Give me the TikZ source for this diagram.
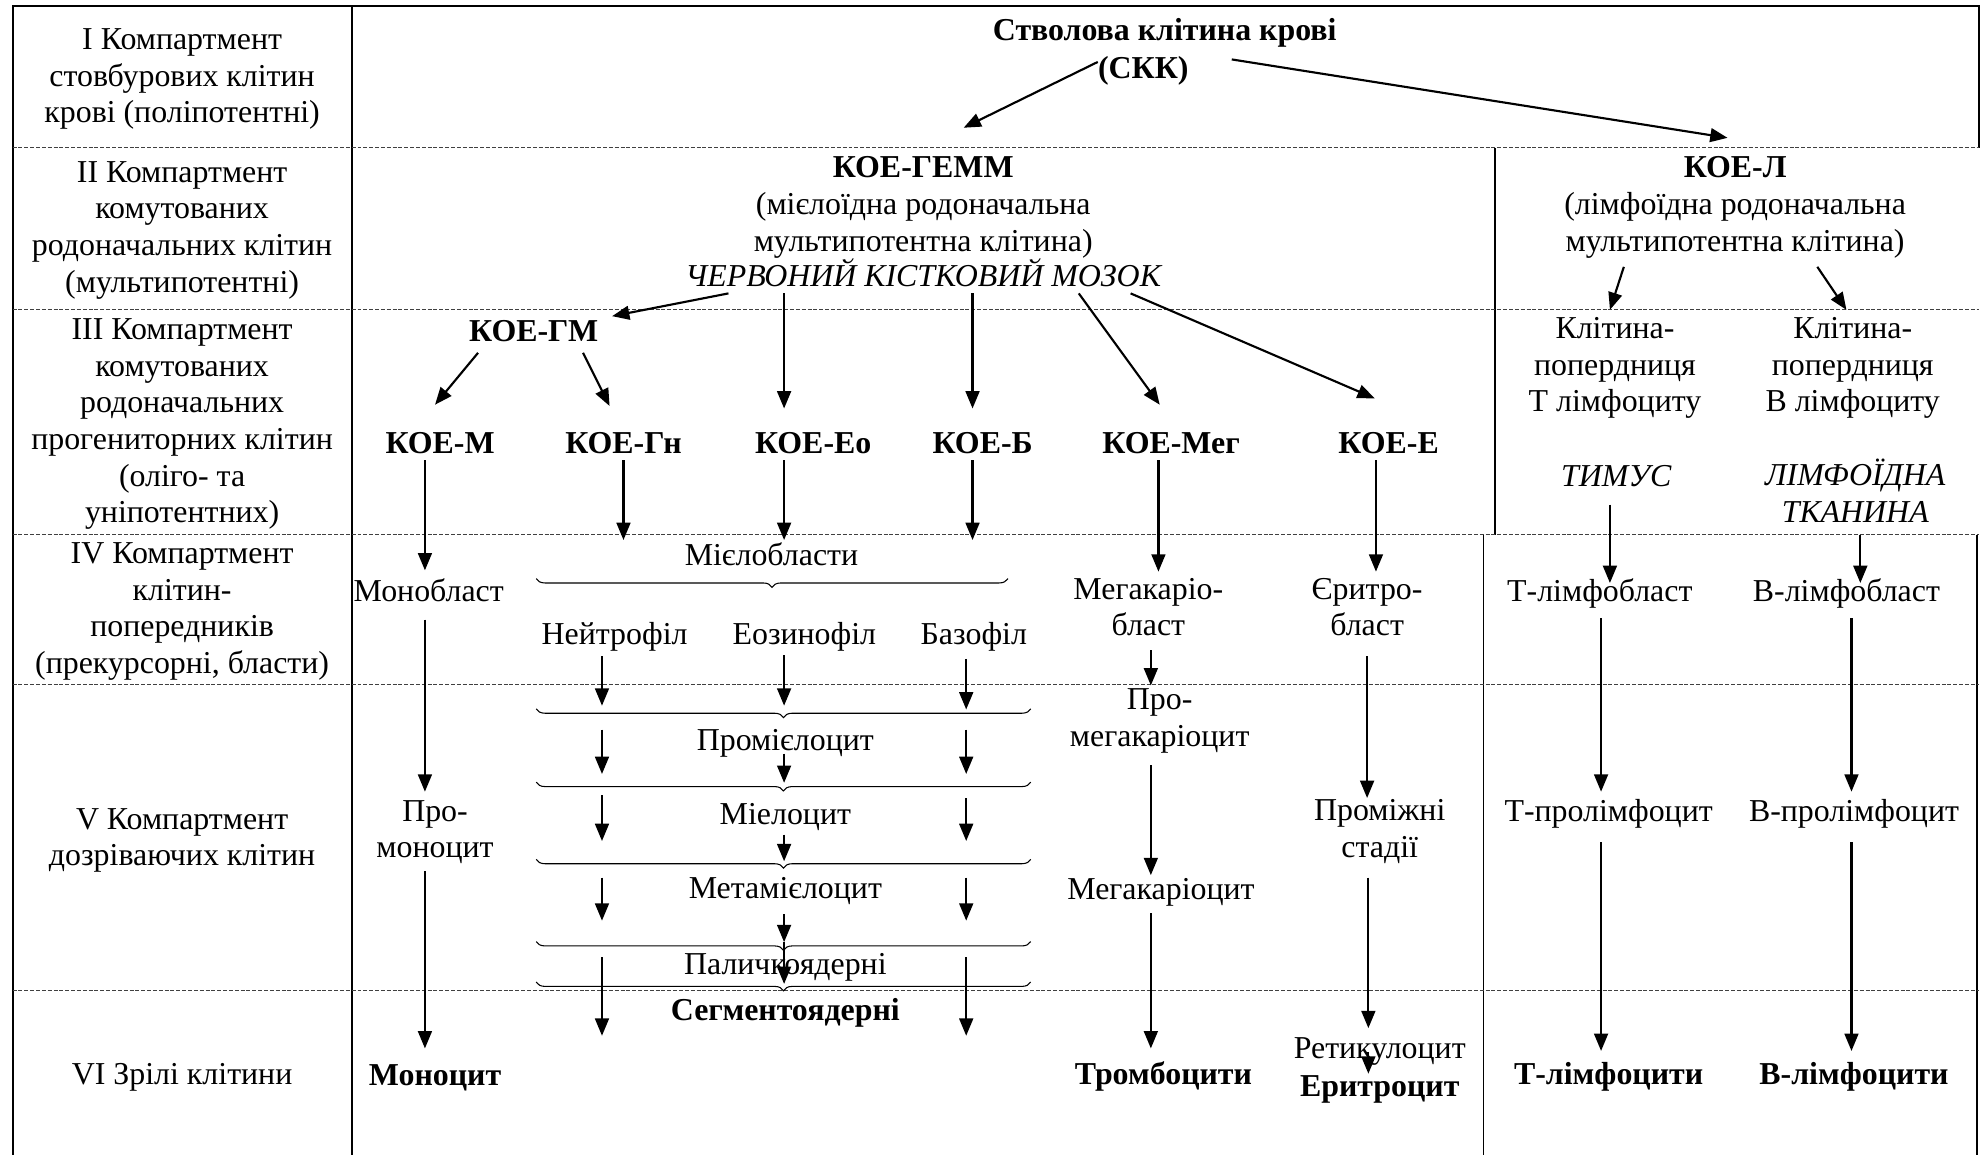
\documentclass[tikz,border=0pt]{standalone}
\usepackage{fontspec}
\setmainfont{Liberation Serif}
\usetikzlibrary{arrows.meta,calc,positioning,decorations.pathreplacing}
\newcommand\cellfont{\fontsize{12pt}{13.8pt}\selectfont}

\begin{document}
\begin{tikzpicture}[>={Triangle[length=6.5pt,width=5.2pt]},x=.476pt,y=-.476pt,
 every node/.style={font=\cellfont,inner sep=0pt},
 lbl/.style={align=center},
 cell/.style={text height=8.5pt,text depth=2.5pt},
 cellb/.style={cell,font=\cellfont\bfseries},
 celli/.style={cell,font=\cellfont\itshape},
 arr/.style={->,line width=.8pt},
 tabline/.style={line width=.7pt},
 rowline/.style={line width=.4pt,dash pattern=on 1.5pt off .7pt,black!75},
 brc/.style={decorate,decoration={brace,mirror,amplitude=3.3pt},line width=.4pt}]
 \useasboundingbox (0,0) rectangle (1568,913);
 \draw[tabline] (10,913) -- (10,5) -- (1565,5) -- (1565,117);
 \draw[tabline] (278,5) -- (278,913);
 \draw[tabline] (1182,117) -- (1182,423);
 \draw[tabline] (1173,423) -- (1173,913);
 \draw[tabline] (1563,423) -- (1563,913);
 \draw[rowline] (10,117) -- (1565,117);
 \draw[rowline] (10,245) -- (1565,245);
 \draw[rowline] (10,423) -- (1565,423);
 \draw[rowline] (10,541) -- (1565,541);
 \draw[rowline] (10,783) -- (1565,783);

 \node[lbl] (c1) at (144,62.5) {I Компартмент\\стовбурових клітин\\крові (поліпотентні)};
 \node[lbl] (c2) at (144,182) {II Компартмент\\комутованих\\родоначальних клітин\\(мультипотентні)};
 \node[lbl] (c3) at (144,335.5) {III Компартмент\\комутованих\\родоначальних\\прогениторних клітин\\(оліго- та\\уніпотентних)};
 \node[lbl] (c4) at (144,483.5) {IV Компартмент\\клітин-\\попередників\\(прекурсорні, бласти)};
 \node[lbl] (c5) at (144,664.5) {V Компартмент\\дозріваючих клітин};
 \node[cell] (c6) at (144,851) {VI Зрілі клітини};

 \node[cellb] (skktop) at (921,25.5) {Стволова клітина крові};
 \node[cellb] (skk) at (904,56) {(СКК)};
 \node[lbl] (koegemm) at (730,164) {\textbf{КОЕ-ГЕММ}\\(мієлоїдна родоначальна\\мультипотентна клітина)};
 \node[celli] (chkm) at (730,220) {ЧЕРВОНИЙ КІСТКОВИЙ МОЗОК};
 \node[lbl] (koel) at (1372,164) {\textbf{КОЕ-Л}\\(лімфоїдна родоначальна\\мультипотентна клітина)};

 \node[cellb] (koegm) at (422,263.5) {КОЕ-ГМ};
 \node[cellb] (koem) at (348,352) {КОЕ-М};
 \node[cellb] (koegn) at (493,352) {КОЕ-Гн};
 \node[cellb] (koeeo) at (643,352) {КОЕ-Ео};
 \node[cellb] (koeb) at (777,352) {КОЕ-Б};
 \node[cellb] (koemeg) at (926,352) {КОЕ-Мег};
 \node[cellb] (koee) at (1098,352) {КОЕ-Е};
 \node[lbl] (tpre) at (1277,291) {Клітина-\\попердниця\\Т лімфоциту};
 \node[lbl] (bpre) at (1465,291) {Клітина-\\попердниця\\В лімфоциту};
 \node[celli] (thym) at (1278,378) {ТИМУС};
 \node[lbl,font=\cellfont\itshape] (lymt) at (1467,388) {ЛІМФОЇДНА\\ТКАНИНА};

 \node[cell] (monobl) at (339,469) {Монобласт};
 \node[cell] (myelobl) at (610,441) {Мієлобласти};
 \node[cell] (neut) at (486,503) {Нейтрофіл};
 \node[cell] (eos) at (636,503) {Еозинофіл};
 \node[cell] (baso) at (770,503) {Базофіл};
 \node[lbl] (megbl) at (908,480) {Мегакаріо-\\бласт};
 \node[lbl] (erybl) at (1081,480) {Єритро-\\бласт};
 \node[cell] (tlbl) at (1265,469) {Т-лімфобласт};
 \node[cell] (blbl) at (1460,469) {В-лімфобласт};

 \node[lbl] (promono) at (344,658) {Про-\\моноцит};
 \node[cell] (promyel) at (621,587) {Промієлоцит};
 \node[cell] (myel) at (621,646) {Міелоцит};
 \node[cell] (metam) at (621,704) {Метамієлоцит};
 \node[cell] (palich) at (621,764) {Паличкоядерні};
 \node[lbl] (promeg) at (917,570) {Про-\\мегакаріоцит};
 \node[cell] (megc) at (918,705) {Мегакаріоцит};
 \node[lbl] (interm) at (1091,657.5) {Проміжні\\стадії};
 \node[cell] (tprol) at (1272,643) {Т-пролімфоцит};
 \node[cell] (bprol) at (1466,643) {В-пролімфоцит};

 \node[cellb] (segm) at (621,801) {Сегментоядерні};
 \node[cellb] (monoc) at (344,852) {Моноцит};
 \node[cellb] (thromb) at (920,851) {Тромбоцити};
 \node[cell] (retic) at (1091,831) {Ретикулоцит};
 \node[cellb] (eryth) at (1091,861) {Еритроцит};
 \node[cellb] (tlym) at (1272,851) {Т-лімфоцити};
 \node[cellb] (blym) at (1466,851) {В-лімфоцити};

 \draw[brc] (424,457.5) -- (797,457.5);
 \draw[brc] (424,560.5) -- (815,560.5);
 \draw[brc] (424,618.5) -- (815,618.5);
 \draw[brc] (424,679.5) -- (815,679.5);
 \draw[brc] (424,744.5) -- (815,744.5);
 \draw[brc] (424,776.5) -- (815,776.5);

 \draw[arr] ($(skk)+(-36,-7)$) -- ($(koegemm)+(32,-63)$);
 \draw[arr] ($(skk)+(70,-9)$) -- ($(koel)+(-6,-55)$);
 \draw[arr] ($(chkm)+(-154,12)$) -- ($(koegm)+(62,-13.5)$);
 \draw[arr] ($(chkm)+(-110,12)$) -- ($(koeeo)+(-23,-29)$);
 \draw[arr] ($(chkm)+(39,12)$) -- ($(koeb)+(-8,-29)$);
 \draw[arr] ($(chkm)+(123,12)$) -- ($(koemeg)+(-9,-32)$);
 \draw[arr] ($(chkm)+(164,12)$) -- ($(koee)+(-11,-37)$);
 \draw[arr] ($(koel)+(-88,47)$) -- ($(tpre)+(-4,-46)$);
 \draw[arr] ($(koel)+(65,47)$) -- ($(bpre)+(-5,-46)$);
 \draw[arr] ($(koegm)+(-44,15.5)$) -- ($(koem)+(-4,-32)$);
 \draw[arr] ($(koegm)+(39,15.5)$) -- ($(koegn)+(-11,-31)$);

 \draw[arr] ($(koem)+(-12,12)$) -- ($(monobl)+(-3,-18)$);
 \draw[arr] ($(koegn)+(0,12)$) -- ($(myelobl)+(-117,-14)$);
 \draw[arr] ($(koeeo)+(-23,12)$) -- ($(myelobl)+(10,-14)$);
 \draw[arr] ($(koeb)+(-8,12)$) -- ($(myelobl)+(159,-14)$);
 \draw[arr] ($(koemeg)+(-10,12)$) -- ($(megbl)+(8,-28)$);
 \draw[arr] ($(koee)+(-10,12)$) -- ($(erybl)+(7,-28)$);
 \draw[arr] ($(thym)+(-5,21)$) -- ($(tlbl)+(8,-8)$);
 \draw[arr] ($(lymt)+(4,35)$) -- ($(blbl)+(11,-8)$);

 \draw[arr] ($(monobl)+(-3,21)$) -- ($(promono)+(-8,-32)$);
 \draw[arr] ($(neut)+(-10,16)$) -- ($(promyel)+(-145,-29)$);
 \draw[arr] ($(eos)+(-16,15)$) -- ($(promyel)+(-1,-29)$);
 \draw[arr] ($(baso)+(-6,18)$) -- ($(promyel)+(143,-26)$);
 \draw[arr] ($(megbl)+(2,34)$) -- ($(promeg)+(-7,-28)$);
 \draw[arr] ($(erybl)+(0,39)$) -- ($(interm)+(-10,-26.5)$);
 \draw[arr] ($(tlbl)+(1,20)$) -- ($(tprol)+(-6,-17)$);
 \draw[arr] ($(blbl)+(4,20)$) -- ($(bprol)+(-2,-17)$);

 \draw[arr] ($(promyel)+(-145,-10)$) -- ($(myel)+(-145,-34)$);
 \draw[arr] ($(myel)+(-145,-17)$) -- ($(metam)+(-145,-39)$);
 \draw[arr] ($(metam)+(-145,-10)$) -- ($(palich)+(-145,-36)$);
 \draw[arr] ($(palich)+(-145,-7)$) -- ($(segm)+(-145,18)$);
 \draw[arr] ($(promyel)+(-1,9)$) -- ($(myel)+(-1,-27)$);
 \draw[arr] ($(myel)+(-1,14)$) -- ($(metam)+(-1,-23)$);
 \draw[arr] ($(metam)+(-1,19)$) -- ($(palich)+(-1,-19)$);
 \draw[arr] ($(palich)+(-1,-19)$) -- ($(segm)+(-1,-23)$);
 \draw[arr] ($(promyel)+(143,-10)$) -- ($(myel)+(143,-34)$);
 \draw[arr] ($(myel)+(143,-15)$) -- ($(metam)+(143,-39)$);
 \draw[arr] ($(metam)+(143,-10)$) -- ($(palich)+(143,-36)$);
 \draw[arr] ($(palich)+(143,-7)$) -- ($(segm)+(143,18)$);

 \draw[arr] ($(promono)+(-8,31)$) -- ($(monoc)+(-8,-23)$);
 \draw[arr] ($(promeg)+(-7,35)$) -- ($(megc)+(-8,-13)$);
 \draw[arr] ($(megc)+(-8,17)$) -- ($(thromb)+(-10,-22)$);
 \draw[arr] ($(interm)+(-9,36.5)$) -- ($(retic)+(-9,-18)$);
 \draw[arr] ($(retic)+(-9,1)$) -- ($(eryth)+(-9,-12)$);
 \draw[arr] ($(tprol)+(-6,23)$) -- ($(tlym)+(-6,-20)$);
 \draw[arr] ($(bprol)+(-2,23)$) -- ($(blym)+(-2,-20)$);
\end{tikzpicture}
\end{document}
